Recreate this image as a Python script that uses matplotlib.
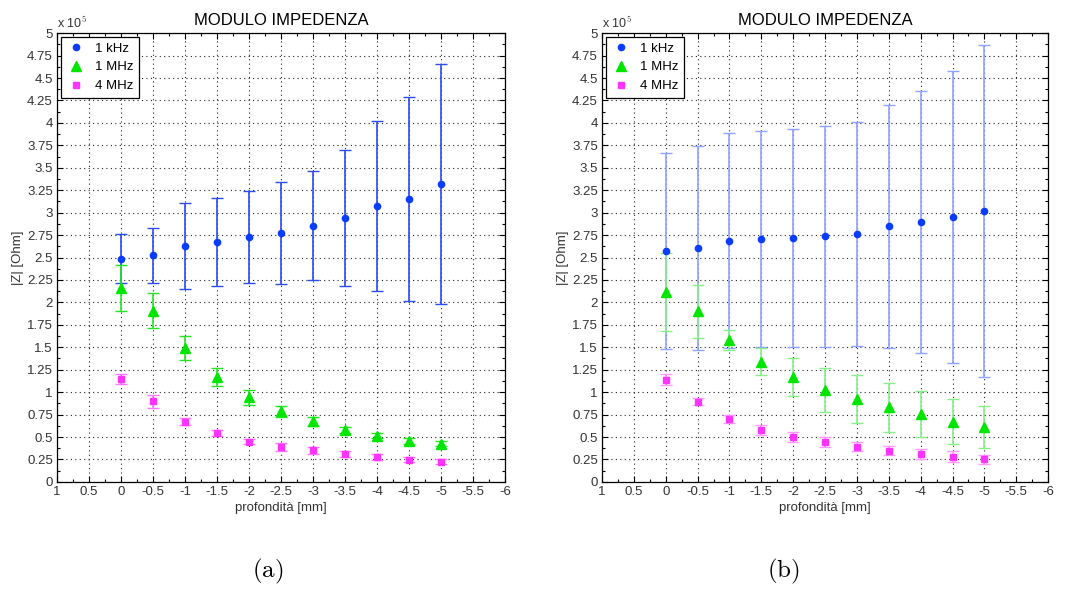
import numpy as np
import matplotlib
matplotlib.use("Agg")
import matplotlib.pyplot as plt
from matplotlib.ticker import MultipleLocator, FuncFormatter

plt.rcParams['font.family'] = ['Liberation Sans', 'DejaVu Sans']
plt.rcParams['mathtext.fontset'] = 'cm'

# depth positions [mm]
depth = [0, -0.5, -1, -1.5, -2, -2.5, -3, -3.5, -4, -4.5, -5]

# panel (a): |Z| in units of 1e5 Ohm, with standard deviation
a_1khz = [2.487, 2.524, 2.628, 2.676, 2.725, 2.769, 2.854, 2.940, 3.073, 3.155, 3.318]
a_1khz_err = [0.273, 0.310, 0.476, 0.490, 0.514, 0.568, 0.606, 0.760, 0.945, 1.136, 1.338]
a_1mhz = [2.160, 1.908, 1.492, 1.169, 0.943, 0.786, 0.673, 0.579, 0.513, 0.454, 0.424]
a_1mhz_err = [0.255, 0.195, 0.132, 0.102, 0.085, 0.061, 0.047, 0.030, 0.028, 0.032, 0.028]
a_4mhz = [1.149, 0.896, 0.670, 0.545, 0.450, 0.390, 0.350, 0.310, 0.278, 0.249, 0.225]
a_4mhz_err = [0.056, 0.073, 0.039, 0.037, 0.032, 0.043, 0.039, 0.032, 0.030, 0.026, 0.025]

# panel (b)
b_1khz = [2.575, 2.610, 2.688, 2.706, 2.717, 2.735, 2.760, 2.848, 2.893, 2.951, 3.019]
b_1khz_err = [1.093, 1.138, 1.197, 1.206, 1.216, 1.234, 1.246, 1.357, 1.457, 1.622, 1.847]
b_1mhz = [2.116, 1.900, 1.585, 1.341, 1.168, 1.025, 0.922, 0.830, 0.753, 0.671, 0.614]
b_1mhz_err = [0.434, 0.297, 0.111, 0.154, 0.214, 0.243, 0.268, 0.271, 0.255, 0.251, 0.234]
b_4mhz = [1.140, 0.895, 0.700, 0.580, 0.500, 0.443, 0.394, 0.348, 0.311, 0.280, 0.251]
b_4mhz_err = [0.064, 0.038, 0.041, 0.052, 0.056, 0.054, 0.050, 0.050, 0.054, 0.060, 0.047]

labels = ['1 kHz', '1 MHz', '4 MHz']
scale = 1e5

BLUE, GREEN, MAGENTA = '#0a3cff', '#00e600', '#ff33ff'
TICK_COLOR = '#333333'


def fmt(v, pos):
    s = ('%.2f' % v).rstrip('0').rstrip('.')
    return s


def draw_panel(ax, series, err_colors):
    markers = ['o', '^', 's']
    sizes = [4.5, 7, 5]
    colors = [BLUE, GREEN, MAGENTA]
    for (vals, errs), lab, m, ms, c, ec in zip(series, labels, markers, sizes, colors, err_colors):
        y = np.array(vals) * scale
        e = np.array(errs) * scale
        ax.errorbar(depth, y, yerr=e, fmt='none', ecolor=ec, elinewidth=1.2,
                    capsize=4.5, capthick=1.0, zorder=3)
        ax.plot(depth, y, linestyle='none', marker=m, markersize=ms, color=c,
                markeredgecolor=c, label=lab, zorder=4)

    ax.set_xlim(1, -6)
    ax.set_ylim(0, 5e5)
    ax.xaxis.set_major_locator(MultipleLocator(0.5))
    ax.xaxis.set_minor_locator(MultipleLocator(0.25))
    ax.yaxis.set_major_locator(MultipleLocator(0.25e5))
    ax.yaxis.set_minor_locator(MultipleLocator(0.125e5))
    ax.xaxis.set_major_formatter(FuncFormatter(lambda v, p: fmt(v, p)))
    ax.yaxis.set_major_formatter(FuncFormatter(lambda v, p: fmt(v / scale, p)))
    ax.tick_params(which='both', direction='in', top=True, right=True,
                   labelsize=9.5, labelcolor=TICK_COLOR, color='black', pad=3)
    ax.tick_params(which='major', length=4, width=0.8)
    ax.tick_params(which='minor', length=2.5, width=0.8)
    ax.grid(True, which='major', linestyle=(0, (1, 3)), color='#222222', linewidth=0.8)
    for sp in ax.spines.values():
        sp.set_linewidth(0.9)
        sp.set_color('black')

    ax.set_title('MODULO IMPEDENZA', fontsize=12, color='black', pad=6)
    ax.set_xlabel('profondità [mm]', fontsize=9.5, color=TICK_COLOR, labelpad=3)
    ax.set_ylabel('|Z| [Ohm]', fontsize=9.5, color=TICK_COLOR, labelpad=2)
    ax.text(0.0, 1.004, r'x 10$^{5}$', transform=ax.transAxes, fontsize=9,
            color=TICK_COLOR, ha='left', va='bottom')

    leg = ax.legend(loc='upper left', fontsize=9.5, frameon=True, fancybox=False,
                    borderpad=0.4, labelspacing=0.5, handlelength=1.5,
                    handletextpad=0.7, borderaxespad=0.3, numpoints=1)
    leg.get_frame().set_edgecolor('black')
    leg.get_frame().set_linewidth(0.9)
    leg.get_frame().set_alpha(1)


fig = plt.figure(figsize=(10.75, 5.92), dpi=100)
ax1 = fig.add_axes([0.053, 0.186, 0.4167, 0.758])
ax2 = fig.add_axes([0.560, 0.186, 0.4150, 0.758])

draw_panel(ax1,
           [(a_1khz, a_1khz_err), (a_1mhz, a_1mhz_err), (a_4mhz, a_4mhz_err)],
           ['#2a4cf0', '#22e622', '#ff77ff'])
draw_panel(ax2,
           [(b_1khz, b_1khz_err), (b_1mhz, b_1mhz_err), (b_4mhz, b_4mhz_err)],
           ['#8fa2ff', '#88ee88', '#ff99ff'])

fig.text(0.2495, 0.034, r'$\mathrm{(a)}$', fontsize=18, ha='center', va='center')
fig.text(0.7285, 0.034, r'$\mathrm{(b)}$', fontsize=18, ha='center', va='center')

fig.savefig('out.png', dpi=100, facecolor='white')
